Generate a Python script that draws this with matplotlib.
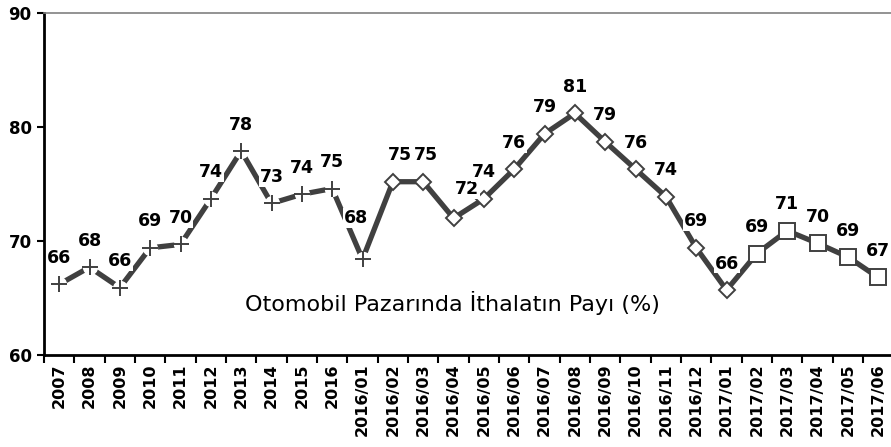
import numpy as np
import matplotlib
matplotlib.use('Agg')
from matplotlib import pyplot as plt

categories = ['2007', '2008', '2009', '2010', '2011', '2012', '2013', '2014', '2015', '2016',
              '2016/01', '2016/02', '2016/03', '2016/04', '2016/05', '2016/06', '2016/07',
              '2016/08', '2016/09', '2016/10', '2016/11', '2016/12',
              '2017/01', '2017/02', '2017/03', '2017/04', '2017/05', '2017/06']
values = [66.2, 67.7, 65.9, 69.4, 69.7, 73.7, 77.9, 73.3, 74.1, 74.6,
          68.4, 75.2, 75.2, 72.0, 73.7, 76.3, 79.4, 81.2, 78.7, 76.3, 73.9, 69.4,
          65.7, 68.9, 70.9, 69.8, 68.6, 66.8]
labels = [66, 68, 66, 69, 70, 74, 78, 73, 74, 75,
          68, 75, 75, 72, 74, 76, 79, 81, 79, 76, 74, 69,
          66, 69, 71, 70, 69, 67]
title_text = 'Otomobil Pazarında İthalatın Payı (%)'

x = np.arange(len(categories))
y = np.array(values)
dark = '#404040'

fig = plt.figure(figsize=(8.91, 4.47), dpi=100)
ax = fig.add_axes([44 / 891, 92 / 447, 849.4 / 891, 342 / 447])

ax.plot(x, y, color=dark, lw=3.8, zorder=2, solid_capstyle='butt')

# marker groups: yearly + 2016/01 as plus, 2016 months as diamonds, 2017 as squares
p = slice(0, 11)
d = slice(11, 23)
s = slice(23, 28)
ax.plot(x[p], y[p], ls='none', marker='o', ms=11, mfc='white', mec='none', zorder=3)
ax.plot(x[p], y[p], ls='none', marker='+', ms=12, mew=1.4, color=dark, zorder=4)
ax.plot(x[d], y[d], ls='none', marker='D', ms=8, mfc='white', mec=dark, mew=1.4, zorder=4)
ax.plot(x[s], y[s], ls='none', marker='s', ms=12, mfc='white', mec=dark, mew=1.4, zorder=4)

offsets = {10: (-5, 29.5), 11: (5, 19.5), 12: (2, 19.5), 13: (9.5, 21)}
for i, (xi, yi) in enumerate(zip(x, y)):
    dx, dy = offsets.get(i, (0, 19))
    ax.annotate(str(labels[i]), (xi, yi), xytext=(dx, dy), textcoords='offset points',
                ha='center', va='center', fontsize=12.5, fontweight='bold', color='black',
                bbox=dict(boxstyle='square,pad=0.05', fc='white', ec='none'), zorder=5)

ax.text(12.95, 64.6, title_text, ha='center', va='center', fontsize=16, color='black', zorder=5)

ax.set_xlim(-0.5, len(categories) - 0.5)
ax.set_ylim(60, 90)
ax.set_yticks([60, 70, 80, 90])
ax.set_yticklabels(['60', '70', '80', '90'], fontsize=12, fontweight='bold')
ax.set_xticks(x - 0.5)
ax.set_xticklabels([])
ax.set_xticks(x, minor=True)
ax.set_xticklabels(categories, minor=True, rotation=90, fontsize=11.5, fontweight='bold')
ax.tick_params(axis='x', which='major', direction='out', length=6, width=1.5)
ax.tick_params(axis='x', which='minor', length=0, pad=6)
ax.tick_params(axis='y', direction='out', length=5, width=1.5, pad=4)

ax.spines['left'].set_linewidth(2)
ax.spines['bottom'].set_linewidth(2)
ax.spines['right'].set_visible(False)
ax.spines['top'].set_color('#808080')
ax.spines['top'].set_linewidth(1.2)

plt.savefig('out.png', dpi=100)
